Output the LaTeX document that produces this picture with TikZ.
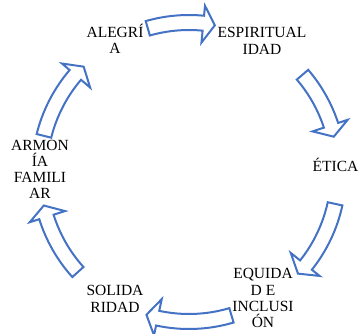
\documentclass[tikz,border=0pt]{standalone}
\usepackage{fontspec}
\setmainfont{Liberation Serif}
\definecolor{arrowblue}{HTML}{4472C4}
\tikzset{
  lbl/.style={align=center, inner sep=0pt, font=\fontsize{15.5}{16.3}\selectfont, text=black},
  cyc/.style={draw=arrowblue, line width=2pt, fill=white, line join=miter},
}
\newcommand\cycarrow[2]{%
  \pgfmathsetmacro\hbase{#2+4.5}%
  \draw[cyc] ([shift={(O)}]#1:157pt) arc[start angle=#1, end angle=\hbase, radius=157pt]
    -- ([shift={(O)}]\hbase:167pt) -- ([shift={(O)}]#2:149pt) -- ([shift={(O)}]\hbase:130pt)
    -- ([shift={(O)}]\hbase:142pt) arc[start angle=\hbase, end angle=#1, radius=142pt] -- cycle;
}
\begin{document}
\begin{tikzpicture}[x=1pt,y=1pt]
\useasboundingbox (0,0) rectangle (359,333);
\coordinate (O) at (189,161);
\cycarrow{106}{80}
\cycarrow{40.6}{13.7}
\cycarrow{-12.3}{-43}
\cycarrow{-73.5}{-106.6}
\cycarrow{-138}{-167}
\cycarrow{166}{135}
\node[lbl] (alegria) at (115,294.1) {ALEGRÍ\\A};
\node[lbl] (espiritualidad) at (262,292.2) {ESPIRITUAL\\IDAD};
\node[lbl] (etica) at (335.5,168.1) {ÉTICA};
\node[lbl] (equidad) at (263,34.7) {EQUIDA\\D E\\INCLUSI\\ÓN};
\node[lbl] (solidaridad) at (115,34.1) {SOLIDA\\RIDAD};
\node[lbl] (armonia) at (40,163.6) {ARMON\\ÍA\\FAMILI\\AR};
\end{tikzpicture}
\end{document}
